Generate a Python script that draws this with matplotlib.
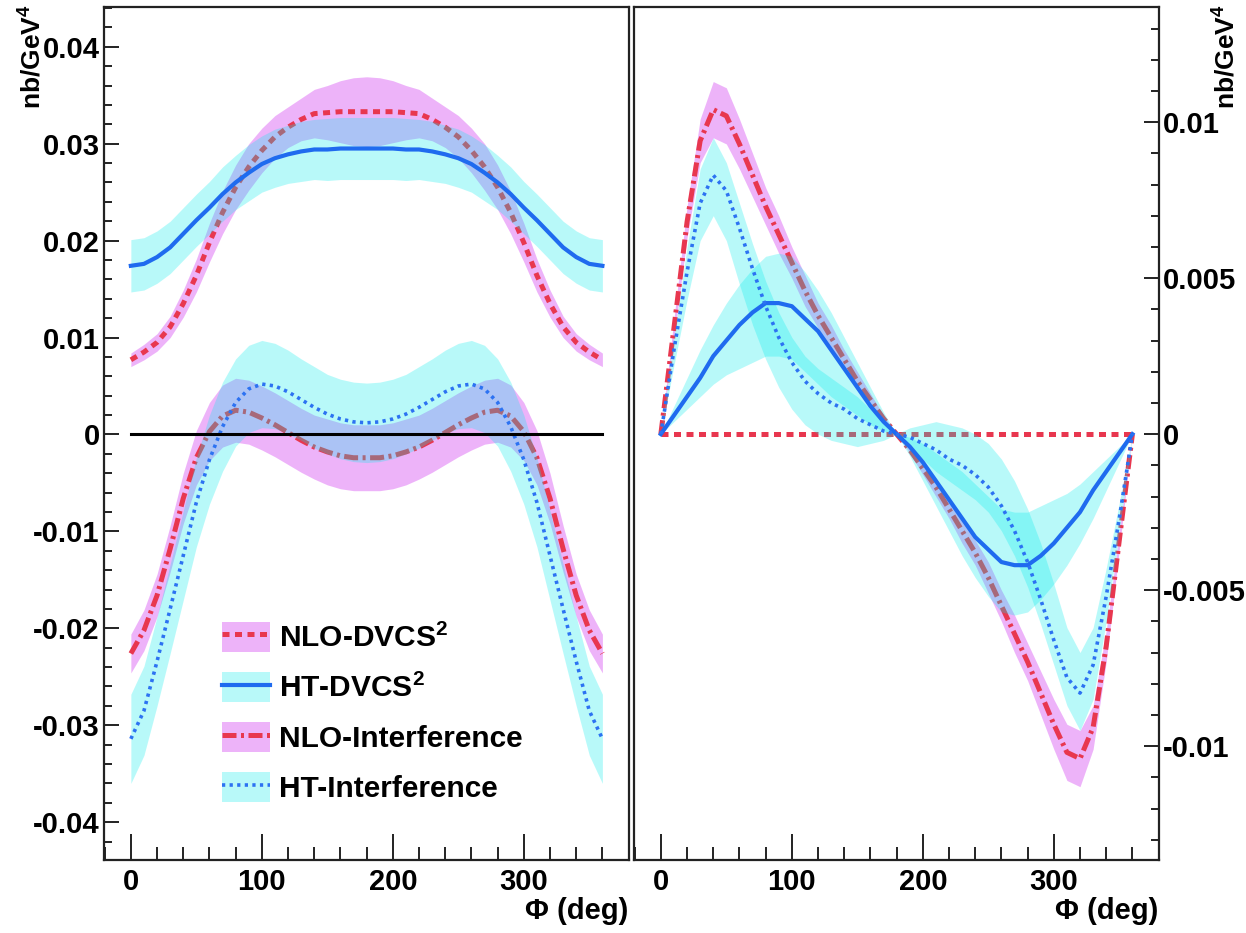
import numpy as np
import matplotlib
matplotlib.use('Agg')
import matplotlib.pyplot as plt
from matplotlib.ticker import MultipleLocator, FuncFormatter
from matplotlib.patches import Patch
from matplotlib.lines import Line2D

plt.rcParams['font.family'] = ['Liberation Sans', 'DejaVu Sans']
plt.rcParams['font.weight'] = 'bold'
plt.rcParams['mathtext.fontset'] = 'custom'
plt.rcParams['mathtext.rm'] = 'Liberation Sans:bold'
plt.rcParams['mathtext.bf'] = 'Liberation Sans:bold'
plt.rcParams['mathtext.it'] = 'Liberation Sans:bold'

# ---------------- data ----------------
PHI = [0, 10, 20, 30, 40, 50, 60, 70, 80, 90, 100, 110, 120, 130, 140, 150, 160, 170, 180,
       190, 200, 210, 220, 230, 240, 250, 260, 270, 280, 290, 300, 310, 320, 330, 340, 350, 360]

# Left panel (nb/GeV^4): central value and band half-width
NLO_DVCS_L = [0.0077, 0.0085, 0.0095, 0.0111, 0.0135, 0.0164, 0.0198, 0.0229, 0.0255, 0.0276,
              0.0293, 0.0307, 0.0317, 0.0325, 0.0331, 0.0332, 0.0333, 0.0333, 0.0333,
              0.0333, 0.0333, 0.0332, 0.0331, 0.0325, 0.0317, 0.0307, 0.0293, 0.0276, 0.0255,
              0.0229, 0.0198, 0.0164, 0.0135, 0.0111, 0.0095, 0.0085, 0.0077]
NLO_DVCS_L_ERR = [0.0007, 0.0008, 0.0009, 0.0011, 0.0014, 0.0017, 0.0020, 0.0022, 0.0023, 0.0024,
                  0.0023, 0.0022, 0.0021, 0.0022, 0.0025, 0.0028, 0.0032, 0.0035, 0.0036,
                  0.0035, 0.0032, 0.0028, 0.0025, 0.0022, 0.0021, 0.0022, 0.0023, 0.0024, 0.0023,
                  0.0022, 0.0020, 0.0017, 0.0014, 0.0011, 0.0009, 0.0008, 0.0007]

HT_DVCS_L = [0.0174, 0.0176, 0.0183, 0.0193, 0.0207, 0.0221, 0.0234, 0.0248, 0.0260, 0.0270,
             0.0279, 0.0285, 0.0289, 0.0292, 0.0294, 0.0294, 0.0295, 0.0295, 0.0295,
             0.0295, 0.0295, 0.0294, 0.0294, 0.0292, 0.0289, 0.0285, 0.0279, 0.0270, 0.0260,
             0.0248, 0.0234, 0.0221, 0.0207, 0.0193, 0.0183, 0.0176, 0.0174]
HT_DVCS_L_ERR = [0.0027, 0.0027, 0.0027, 0.0027, 0.0027, 0.0027, 0.0027, 0.0028, 0.0028, 0.0029,
                 0.0029, 0.0030, 0.0030, 0.0031, 0.0031, 0.0032, 0.0032, 0.0032, 0.0032,
                 0.0032, 0.0032, 0.0032, 0.0031, 0.0031, 0.0030, 0.0030, 0.0029, 0.0029, 0.0028,
                 0.0028, 0.0027, 0.0027, 0.0027, 0.0027, 0.0027, 0.0027, 0.0027]

NLO_INT_L = [-0.0226, -0.0202, -0.0166, -0.0118, -0.0066, -0.0024, 0.0003, 0.0019, 0.0025, 0.0023,
             0.0017, 0.0010, 0.0002, -0.0006, -0.0013, -0.0018, -0.0022, -0.0024, -0.0024,
             -0.0024, -0.0022, -0.0018, -0.0013, -0.0006, 0.0002, 0.0010, 0.0017, 0.0023, 0.0025,
             0.0019, 0.0003, -0.0024, -0.0066, -0.0118, -0.0166, -0.0202, -0.0226]
NLO_INT_L_ERR = [0.0020, 0.0021, 0.0022, 0.0024, 0.0026, 0.0028, 0.0030, 0.0032, 0.0033, 0.0033,
                 0.0033, 0.0033, 0.0033, 0.0033, 0.0033, 0.0034, 0.0034, 0.0034, 0.0034,
                 0.0034, 0.0034, 0.0034, 0.0033, 0.0033, 0.0033, 0.0033, 0.0033, 0.0033, 0.0033,
                 0.0032, 0.0030, 0.0028, 0.0026, 0.0024, 0.0022, 0.0021, 0.0020]

HT_INT_L = [-0.0314, -0.0285, -0.0234, -0.0180, -0.0125, -0.0070, -0.0026, 0.0008, 0.0033, 0.0047,
            0.0052, 0.0050, 0.0044, 0.0036, 0.0028, 0.0021, 0.0016, 0.0013, 0.0012,
            0.0013, 0.0016, 0.0021, 0.0028, 0.0036, 0.0044, 0.0050, 0.0052, 0.0047, 0.0033,
            0.0008, -0.0026, -0.0070, -0.0125, -0.0180, -0.0234, -0.0285, -0.0314]
HT_INT_L_ERR = [0.0046, 0.0046, 0.0046, 0.0046, 0.0046, 0.0046, 0.0046, 0.0046, 0.0045, 0.0045,
                0.0045, 0.0044, 0.0043, 0.0042, 0.0042, 0.0041, 0.0041, 0.0041, 0.0041,
                0.0041, 0.0041, 0.0041, 0.0042, 0.0042, 0.0043, 0.0044, 0.0045, 0.0045, 0.0045,
                0.0046, 0.0046, 0.0046, 0.0046, 0.0046, 0.0046, 0.0046, 0.0046]

# Right panel (nb/GeV^4)
NLO_DVCS_R = [0.0] * 37

HT_DVCS_R = [0, 0.0006, 0.0012, 0.0018, 0.0025, 0.0030, 0.0035, 0.0039, 0.0042, 0.0042,
             0.0041, 0.0037, 0.0033, 0.0027, 0.0021, 0.0015, 0.0009, 0.0004, 0,
             -0.0004, -0.0009, -0.0015, -0.0021, -0.0027, -0.0033, -0.0037, -0.0041, -0.0042, -0.0042,
             -0.0039, -0.0035, -0.0030, -0.0025, -0.0018, -0.0012, -0.0006, 0]
HT_DVCS_R_HI = [0, 0.0009, 0.0018, 0.0027, 0.0035, 0.0042, 0.0048, 0.0053, 0.0057, 0.0058,
                0.0057, 0.0052, 0.0046, 0.0039, 0.0031, 0.0023, 0.0015, 0.0007, 0,
                -0.0001, -0.0003, -0.0006, -0.0009, -0.0012, -0.0016, -0.0020, -0.0024, -0.0025, -0.0025,
                -0.0023, -0.0021, -0.0019, -0.0016, -0.0012, -0.0008, -0.0004, 0]
HT_DVCS_R_LO = [0, 0.0004, 0.0008, 0.0012, 0.0016, 0.0019, 0.0021, 0.0023, 0.0025, 0.0025,
                0.0024, 0.0020, 0.0016, 0.0012, 0.0009, 0.0006, 0.0003, 0.0001, 0,
                -0.0007, -0.0015, -0.0023, -0.0031, -0.0039, -0.0046, -0.0052, -0.0057, -0.0058, -0.0057,
                -0.0053, -0.0048, -0.0042, -0.0035, -0.0027, -0.0018, -0.0009, 0]

NLO_INT_R = [0, 0.0034, 0.0068, 0.0094, 0.0104, 0.0102, 0.0093, 0.0083, 0.0073, 0.0064,
             0.0055, 0.0046, 0.0038, 0.0031, 0.0024, 0.0017, 0.0011, 0.0005, 0,
             -0.0005, -0.0011, -0.0017, -0.0024, -0.0031, -0.0038, -0.0046, -0.0055, -0.0064, -0.0073,
             -0.0083, -0.0093, -0.0102, -0.0104, -0.0094, -0.0068, -0.0034, 0]
NLO_INT_R_ERR = [0, 0.0003, 0.0005, 0.0007, 0.0009, 0.0009, 0.0008, 0.0007, 0.0006, 0.0006,
                 0.0005, 0.0005, 0.0004, 0.0004, 0.0003, 0.0003, 0.0002, 0.0001, 0,
                 0.0001, 0.0002, 0.0003, 0.0003, 0.0004, 0.0004, 0.0005, 0.0005, 0.0006, 0.0006,
                 0.0007, 0.0008, 0.0009, 0.0009, 0.0007, 0.0005, 0.0003, 0]

HT_INT_R = [0, 0.0027, 0.0052, 0.0074, 0.0083, 0.0078, 0.0066, 0.0053, 0.0041, 0.0031,
            0.0023, 0.0017, 0.0013, 0.0010, 0.0008, 0.0005, 0.0003, 0.0001, 0,
            -0.0001, -0.0003, -0.0005, -0.0008, -0.0010, -0.0013, -0.0017, -0.0023, -0.0031, -0.0041,
            -0.0053, -0.0066, -0.0078, -0.0083, -0.0074, -0.0052, -0.0027, 0]
HT_INT_R_HI = [0, 0.0031, 0.0060, 0.0085, 0.0095, 0.0087, 0.0074, 0.0061, 0.0049, 0.0039,
               0.0031, 0.0025, 0.0021, 0.0018, 0.0015, 0.0012, 0.0008, 0.0004, 0,
               0.0002, 0.0003, 0.0004, 0.0003, 0.0002, 0.0000, -0.0003, -0.0008, -0.0015, -0.0024,
               -0.0035, -0.0048, -0.0062, -0.0070, -0.0062, -0.0043, -0.0022, 0]
HT_INT_R_LO = [0, 0.0022, 0.0043, 0.0062, 0.0070, 0.0062, 0.0048, 0.0035, 0.0024, 0.0015,
               0.0008, 0.0003, 0.0000, -0.0002, -0.0003, -0.0004, -0.0003, -0.0002, 0,
               -0.0004, -0.0008, -0.0012, -0.0015, -0.0018, -0.0021, -0.0025, -0.0031, -0.0039, -0.0049,
               -0.0061, -0.0074, -0.0087, -0.0095, -0.0085, -0.0060, -0.0031, 0]

LEGEND_LABELS = ['NLO-DVCS$^{2}$', 'HT-DVCS$^{2}$', 'NLO-Interference', 'HT-Interference']
LEFT_YTICKS = [-0.04, -0.03, -0.02, -0.01, 0, 0.01, 0.02, 0.03, 0.04]
RIGHT_YTICKS = [-0.01, -0.005, 0, 0.005, 0.01]
XTICKS = [0, 100, 200, 300]

# ---------------- style ----------------
PINK = (198 / 255, 5 / 255, 238 / 255, 0.30)
CYAN = (0 / 255, 237 / 255, 237 / 255, 0.28)
RED = '#E8374F'
BLUE = '#1F6BEF'
DOT_BLUE = '#2C72F2'

LS_DASH = (0, (1.4, 1.1))
LS_DASHDOT = (0, (2.8, 0.9, 0.6, 0.9))
LS_DOT = (0, (0.9, 1.2))

W, H, DPI = 1246, 933, 100
fig = plt.figure(figsize=(W / DPI, H / DPI), dpi=DPI)
fig.patch.set_facecolor('white')

axL = fig.add_axes([104 / W, 1 - 860 / H, 524.6 / W, 853 / H])
axR = fig.add_axes([634 / W, 1 - 860 / H, 524.6 / W, 853 / H])

x = np.array(PHI, dtype=float)


def arr(a):
    return np.array(a, dtype=float)


def fmt(v, p):
    if abs(v) < 1e-12:
        return '0'
    return '%g' % round(v, 6)


# ---- left panel ----
axL.fill_between(x, arr(NLO_DVCS_L) - arr(NLO_DVCS_L_ERR), arr(NLO_DVCS_L) + arr(NLO_DVCS_L_ERR),
                 color=PINK, lw=0, zorder=1)
axL.fill_between(x, arr(NLO_INT_L) - arr(NLO_INT_L_ERR), arr(NLO_INT_L) + arr(NLO_INT_L_ERR),
                 color=PINK, lw=0, zorder=1)
axL.plot(x, NLO_DVCS_L, color=RED, lw=3.6, ls=LS_DASH, dash_capstyle='butt', zorder=2)
axL.plot(x, NLO_INT_L, color=RED, lw=3.6, ls=LS_DASHDOT, dash_capstyle='butt', zorder=2)
axL.fill_between(x, arr(HT_DVCS_L) - arr(HT_DVCS_L_ERR), arr(HT_DVCS_L) + arr(HT_DVCS_L_ERR),
                 color=CYAN, lw=0, zorder=3)
axL.fill_between(x, arr(HT_INT_L) - arr(HT_INT_L_ERR), arr(HT_INT_L) + arr(HT_INT_L_ERR),
                 color=CYAN, lw=0, zorder=3)
axL.plot(x, HT_DVCS_L, color=BLUE, lw=3.0, ls='-', zorder=4)
axL.plot(x, HT_INT_L, color=DOT_BLUE, lw=2.6, ls=LS_DOT, dash_capstyle='butt', zorder=4)
axL.plot([PHI[0], PHI[-1]], [0, 0], color='black', lw=2.2, zorder=5)

# ---- right panel ----
axR.fill_between(x, arr(NLO_INT_R) - arr(NLO_INT_R_ERR), arr(NLO_INT_R) + arr(NLO_INT_R_ERR),
                 color=PINK, lw=0, zorder=1)
axR.plot(x, NLO_DVCS_R, color=RED, lw=3.6, ls=LS_DASH, dash_capstyle='butt', zorder=2)
axR.plot(x, NLO_INT_R, color=RED, lw=3.6, ls=LS_DASHDOT, dash_capstyle='butt', zorder=2)
axR.fill_between(x, HT_DVCS_R_LO, HT_DVCS_R_HI, color=CYAN, lw=0, zorder=3)
axR.fill_between(x, HT_INT_R_LO, HT_INT_R_HI, color=CYAN, lw=0, zorder=3)
axR.plot(x, HT_DVCS_R, color=BLUE, lw=3.0, ls='-', zorder=4)
axR.plot(x, HT_INT_R, color=DOT_BLUE, lw=2.6, ls=LS_DOT, dash_capstyle='butt', zorder=4)

# ---- axes styling ----
for ax in (axL, axR):
    ax.set_xlim(-20.5, 380)
    ax.xaxis.set_major_locator(MultipleLocator(100))
    ax.xaxis.set_minor_locator(MultipleLocator(20))
    ax.set_xticks(XTICKS)
    for s in ax.spines.values():
        s.set_linewidth(1.6)
        s.set_color('#222222')
    ax.tick_params(axis='both', which='both', direction='in', width=1.4, color='#222222',
                   labelsize=21, top=False)
    ax.tick_params(axis='x', which='major', length=19, pad=6)
    ax.tick_params(axis='x', which='minor', length=9.5)
    ax.tick_params(axis='y', which='major', length=11, pad=3)
    ax.tick_params(axis='y', which='minor', length=5.5)
    ax.yaxis.set_major_formatter(FuncFormatter(fmt))
    for lab in ax.get_xticklabels() + ax.get_yticklabels():
        lab.set_fontweight('bold')

axL.set_ylim(-0.0439, 0.0441)
axL.set_yticks(LEFT_YTICKS)
axL.yaxis.set_minor_locator(MultipleLocator(0.002))
axL.tick_params(axis='y', which='both', left=True, right=False)

axR.set_ylim(-0.01365, 0.01369)
axR.set_yticks(RIGHT_YTICKS)
axR.yaxis.set_minor_locator(MultipleLocator(0.001))
axR.yaxis.tick_right()
axR.tick_params(axis='y', which='both', left=False, right=True, labelleft=False, labelright=True)
for lab in axR.get_yticklabels():
    lab.set_fontweight('bold')

# ---- labels ----
fig.text(33 / W, 1 - 4 / H, 'nb/GeV$^{4}$', rotation=90, ha='center', va='top',
         fontsize=19, fontweight='bold')
fig.text(1227 / W, 1 - 4 / H, 'nb/GeV$^{4}$', rotation=90, ha='center', va='top',
         fontsize=19, fontweight='bold')
fig.text(628 / W, 1 - 911 / H, 'Φ (deg)', ha='right', va='center', fontsize=21, fontweight='bold')
fig.text(1158 / W, 1 - 911 / H, 'Φ (deg)', ha='right', va='center', fontsize=21, fontweight='bold')

# ---- legend ----
handles = [
    (Patch(facecolor=PINK, edgecolor='none'),
     Line2D([], [], color=RED, lw=3.6, ls=LS_DASH, dash_capstyle='butt')),
    (Patch(facecolor=CYAN, edgecolor='none'),
     Line2D([], [], color=BLUE, lw=3.0)),
    (Patch(facecolor=PINK, edgecolor='none'),
     Line2D([], [], color=RED, lw=3.6, ls=LS_DASHDOT, dash_capstyle='butt')),
    (Patch(facecolor=CYAN, edgecolor='none'),
     Line2D([], [], color=DOT_BLUE, lw=2.6, ls=LS_DOT, dash_capstyle='butt')),
]
leg = axL.legend(handles, LEGEND_LABELS, loc='upper left',
                 bbox_to_anchor=((222 - 104) / 524.6, (860 - 622) / 853),
                 frameon=False, fontsize=21.5, handlelength=1.6, handleheight=1.15,
                 handletextpad=0.3, labelspacing=0.64, borderpad=0, borderaxespad=0)
for t in leg.get_texts():
    t.set_fontweight('bold')

fig.savefig('out.png', dpi=DPI, facecolor='white')
